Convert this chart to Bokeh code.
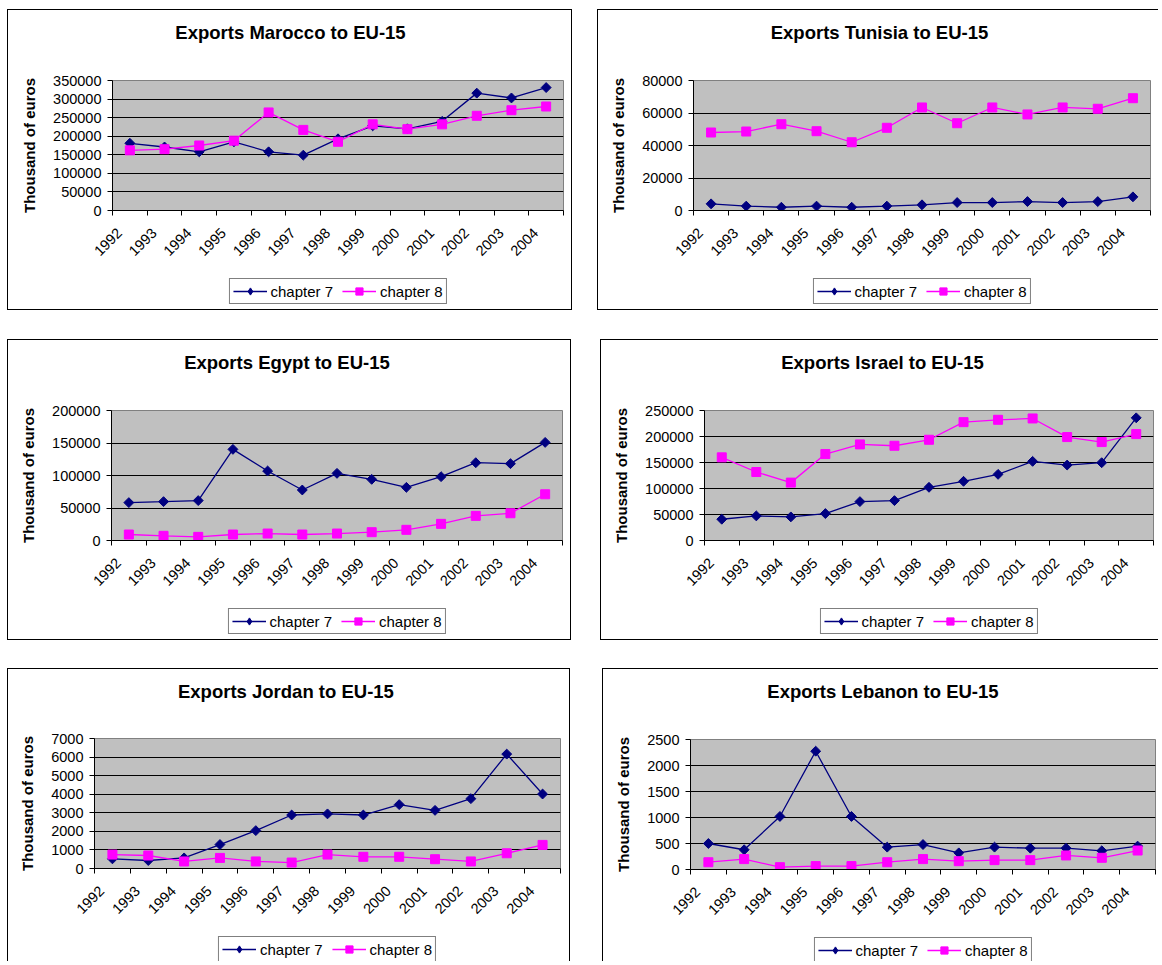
import math
from bokeh.plotting import figure
from bokeh.models import (Range1d, FixedTicker, BasicTickFormatter, Legend,
                          LegendItem, Spacer, Label)
from bokeh.layouts import row, column
from bokeh.embed import file_html
from bokeh.resources import INLINE

# ---------------- data ----------------
years = [1992, 1993, 1994, 1995, 1996, 1997, 1998, 1999, 2000, 2001, 2002, 2003, 2004]
series_labels = ["chapter 7", "chapter 8"]

morocco_ch7 = [181000, 171000, 158000, 185000, 158000, 149000, 193000, 228000, 220000, 240000, 316000, 303000, 331000]
morocco_ch8 = [162000, 165000, 175000, 188000, 264000, 217000, 185000, 232000, 219000, 232000, 255000, 270000, 280000]
morocco_yticks = [0, 50000, 100000, 150000, 200000, 250000, 300000, 350000]

tunisia_ch7 = [4100, 2700, 2000, 2700, 2000, 2700, 3500, 4900, 4900, 5500, 4900, 5500, 8400]
tunisia_ch8 = [48000, 48600, 53100, 48800, 42000, 50900, 63400, 53700, 63400, 59100, 63400, 62600, 69100]
tunisia_yticks = [0, 20000, 40000, 60000, 80000]

egypt_ch7 = [58300, 59800, 61400, 140200, 106900, 77700, 103300, 94100, 81800, 98200, 119700, 118200, 150900]
egypt_ch8 = [9200, 7200, 5600, 9200, 10700, 9200, 10700, 12800, 16400, 25600, 37900, 41900, 71100]
egypt_yticks = [0, 50000, 100000, 150000, 200000]

israel_ch7 = [40900, 47300, 45400, 51800, 74800, 76700, 102300, 113800, 127200, 152200, 145100, 149600, 235900]
israel_ch8 = [159900, 131700, 111300, 166200, 184800, 182200, 193700, 227600, 232100, 234700, 198900, 189300, 204600]
israel_yticks = [0, 50000, 100000, 150000, 200000, 250000]

jordan_ch7 = [520, 430, 570, 1290, 2040, 2880, 2940, 2880, 3440, 3130, 3760, 6160, 4010]
jordan_ch8 = [750, 700, 380, 570, 380, 320, 750, 630, 630, 500, 380, 820, 1270]
jordan_yticks = [0, 1000, 2000, 3000, 4000, 5000, 6000, 7000]

lebanon_ch7 = [500, 380, 1020, 2275, 1020, 430, 480, 320, 430, 410, 410, 360, 450]
lebanon_ch8 = [140, 200, 45, 65, 65, 140, 200, 160, 180, 180, 270, 225, 365]
lebanon_yticks = [0, 500, 1000, 1500, 2000, 2500]

titles = ["Exports Marocco to EU-15", "Exports Tunisia to EU-15",
          "Exports Egypt to  EU-15", "Exports Israel to EU-15",
          "Exports  Jordan to EU-15", "Exports  Lebanon to EU-15"]
y_axis_title = "Thousand of euros"

# ---------------- style ----------------
FONT = "Liberation Sans"
NAVY = "#000080"
MAGENTA = "#FF00FF"
PLOT_BG = "#C0C0C0"
TICK_FS = "14.5px"
LABEL_SHIFT = 0.3       # rotated year labels sit slightly left of the category centre
TITLE_H = 40            # height of the title strip
BELOW_H = 60            # space under the frame for the year labels
LEGEND_GAP = 8          # gap between year-label area and legend box


def css_border(l, t, r, b):
    css = {}
    for side, on in zip(["left", "top", "right", "bottom"], [l, t, r, b]):
        css["border-" + side] = "1px solid black" if on else "none"
    return css


def add_series(fig, ch7, ch8, key=False):
    l7 = fig.line(years, ch7, line_color=NAVY, line_width=1.3)
    if key:
        s7 = fig.scatter(years, ch7, marker="diamond", size=12,
                         fill_color=NAVY, line_color=NAVY)
    else:
        s7 = fig.scatter(years, ch7, marker="square", angle=math.pi / 4, size=7,
                         fill_color=NAVY, line_color=NAVY)
    l8 = fig.line(years, ch8, line_color=MAGENTA, line_width=1.3)
    s8 = fig.scatter(years, ch8, marker="square", size=9,
                     fill_color=MAGENTA, line_color=MAGENTA)
    return l7, s7, l8, s8


def make_panel(title, ch7, ch8, yticks, outer, frame, title_cx, right_border, bottom_border):
    ox, oy, ow, oh = outer
    fx0, fx1, fy0, fy1 = frame
    br = 1 if right_border else 0
    bb = 1 if bottom_border else 0
    fw = ow - 1 - br
    cx0 = ox + 1
    inner_h = oh - 1 - bb
    top_pad = fy0 - (oy + 1 + TITLE_H)
    main_h = top_pad + (fy1 - fy0) + BELOW_H
    legend_h = inner_h - TITLE_H - main_h
    mb_left = fx0 - cx0
    mb_right = cx0 + fw - fx1

    # ---- title strip (frame aligned with chart frame; x in page pixels) ----
    t = figure(width=fw, height=TITLE_H, output_backend="svg", toolbar_location=None,
               x_axis_type=None, y_axis_type=None,
               min_border_left=mb_left, min_border_right=mb_right,
               min_border_top=0, min_border_bottom=0,
               x_range=Range1d(fx0, fx1), y_range=Range1d(0, TITLE_H))
    t.outline_line_color = None
    t.background_fill_color = "white"
    t.border_fill_color = "white"
    t.styles = css_border(1, 1, br, 0)
    t.add_layout(Label(x=title_cx, y=TITLE_H - 22, text=title,
                       text_align="center", text_baseline="middle",
                       text_font=FONT, text_font_size="18.5px", text_font_style="bold",
                       text_color="black"))

    # ---- main chart ----
    p = figure(width=fw, height=main_h, output_backend="svg", toolbar_location=None,
               title=None,
               x_range=Range1d(years[0] - 0.5, years[-1] + 0.5),
               y_range=Range1d(yticks[0], yticks[-1]),
               min_border_left=mb_left, min_border_right=mb_right,
               min_border_top=top_pad, min_border_bottom=BELOW_H)
    p.styles = css_border(1, 0, br, 0)
    p.background_fill_color = PLOT_BG
    p.border_fill_color = "white"
    p.outline_line_color = "#808080"
    p.outline_line_width = 1

    yax = p.yaxis[0]
    yax.ticker = FixedTicker(ticks=yticks)
    yax.formatter = BasicTickFormatter(use_scientific=False)
    yax.axis_label = y_axis_title
    yax.axis_label_text_font = FONT
    yax.axis_label_text_font_size = "15px"
    yax.axis_label_text_font_style = "bold"
    yax.axis_label_text_color = "black"
    yax.axis_label_standoff = 12
    yax.major_label_text_font = FONT
    yax.major_label_text_font_size = TICK_FS
    yax.major_label_text_color = "black"
    yax.major_label_standoff = 6
    yax.major_tick_out = 5
    yax.major_tick_in = 0
    yax.minor_tick_out = 0
    yax.minor_tick_in = 0
    yax.axis_line_color = "black"
    yax.major_tick_line_color = "black"

    xax = p.xaxis[0]
    bounds = [y - 0.5 for y in years] + [years[-1] + 0.5]
    label_pos = [y - LABEL_SHIFT for y in years]
    xax.ticker = FixedTicker(ticks=label_pos, minor_ticks=bounds)
    xax.major_label_overrides = {lp: str(y) for lp, y in zip(label_pos, years)}
    xax.major_label_orientation = math.pi / 4
    xax.major_label_text_font = FONT
    xax.major_label_text_font_size = TICK_FS
    xax.major_label_text_color = "black"
    xax.major_label_standoff = 15
    xax.major_tick_out = 0
    xax.major_tick_in = 0
    xax.minor_tick_out = 5
    xax.minor_tick_in = 0
    xax.minor_tick_line_color = "black"
    xax.axis_line_color = "black"

    p.ygrid.ticker = FixedTicker(ticks=yticks)
    p.ygrid.grid_line_color = "black"
    p.ygrid.grid_line_width = 1
    p.xgrid.grid_line_color = None

    add_series(p, ch7, ch8)

    # ---- legend strip (frame aligned with the chart frame) ----
    lg = figure(width=fw, height=legend_h, output_backend="svg", toolbar_location=None,
                x_axis_type=None, y_axis_type=None,
                min_border_left=mb_left, min_border_right=mb_right,
                min_border_top=0, min_border_bottom=0,
                x_range=Range1d(0, 1), y_range=Range1d(0, 1))
    lg.outline_line_color = None
    lg.background_fill_color = "white"
    lg.border_fill_color = "white"
    lg.styles = css_border(1, 0, br, bb)
    # same series drawn again here only as legend keys (they fall outside this strip's range)
    kl7, ks7, kl8, ks8 = add_series(lg, ch7, ch8, key=True)
    legend = Legend(items=[LegendItem(label=series_labels[0], renderers=[kl7, ks7]),
                           LegendItem(label=series_labels[1], renderers=[kl8, ks8])],
                    orientation="horizontal", location="top_center",
                    border_line_color="black", border_line_width=1,
                    background_fill_color="white", background_fill_alpha=1,
                    label_text_font=FONT, label_text_font_size="15px",
                    label_text_color="black",
                    glyph_width=34, glyph_height=18, label_height=18,
                    label_standoff=4, spacing=9, padding=3, margin=LEGEND_GAP)
    lg.add_layout(legend)

    return column(t, p, lg, spacing=0)


# outer boxes (x, y, w, h) in page pixels, frames (x0, x1, y0, y1), title centres
c1 = make_panel(titles[0], morocco_ch7, morocco_ch8, morocco_yticks,
                (7, 9, 567, 303), (112, 563, 81, 211), 290, True, True)
c2 = make_panel(titles[1], tunisia_ch7, tunisia_ch8, tunisia_yticks,
                (599, 9, 562, 303), (695, 1152, 81, 211), 881, False, True)
c3 = make_panel(titles[2], egypt_ch7, egypt_ch8, egypt_yticks,
                (7, 339, 566, 303), (111, 562, 411, 541), 289, True, True)
c4 = make_panel(titles[3], israel_ch7, israel_ch8, israel_yticks,
                (602, 339, 559, 303), (706, 1155, 411, 541), 884, False, True)
c5 = make_panel(titles[4], jordan_ch7, jordan_ch8, jordan_yticks,
                (7, 668, 565, 294), (94, 560, 739, 869), 288, True, False)
c6 = make_panel(titles[5], lebanon_ch7, lebanon_ch8, lebanon_yticks,
                (604, 668, 557, 294), (692, 1157, 740, 870), 887, False, False)

layout = column(
    Spacer(height=9),
    row(Spacer(width=7), c1, Spacer(width=25), c2, spacing=0),
    Spacer(height=29),
    row(Spacer(width=7), c3, Spacer(width=29), c4, spacing=0),
    Spacer(height=28),
    row(Spacer(width=7), c5, Spacer(width=32), c6, spacing=0),
    spacing=0,
)

open("out.html", "w").write(file_html(layout, INLINE))
